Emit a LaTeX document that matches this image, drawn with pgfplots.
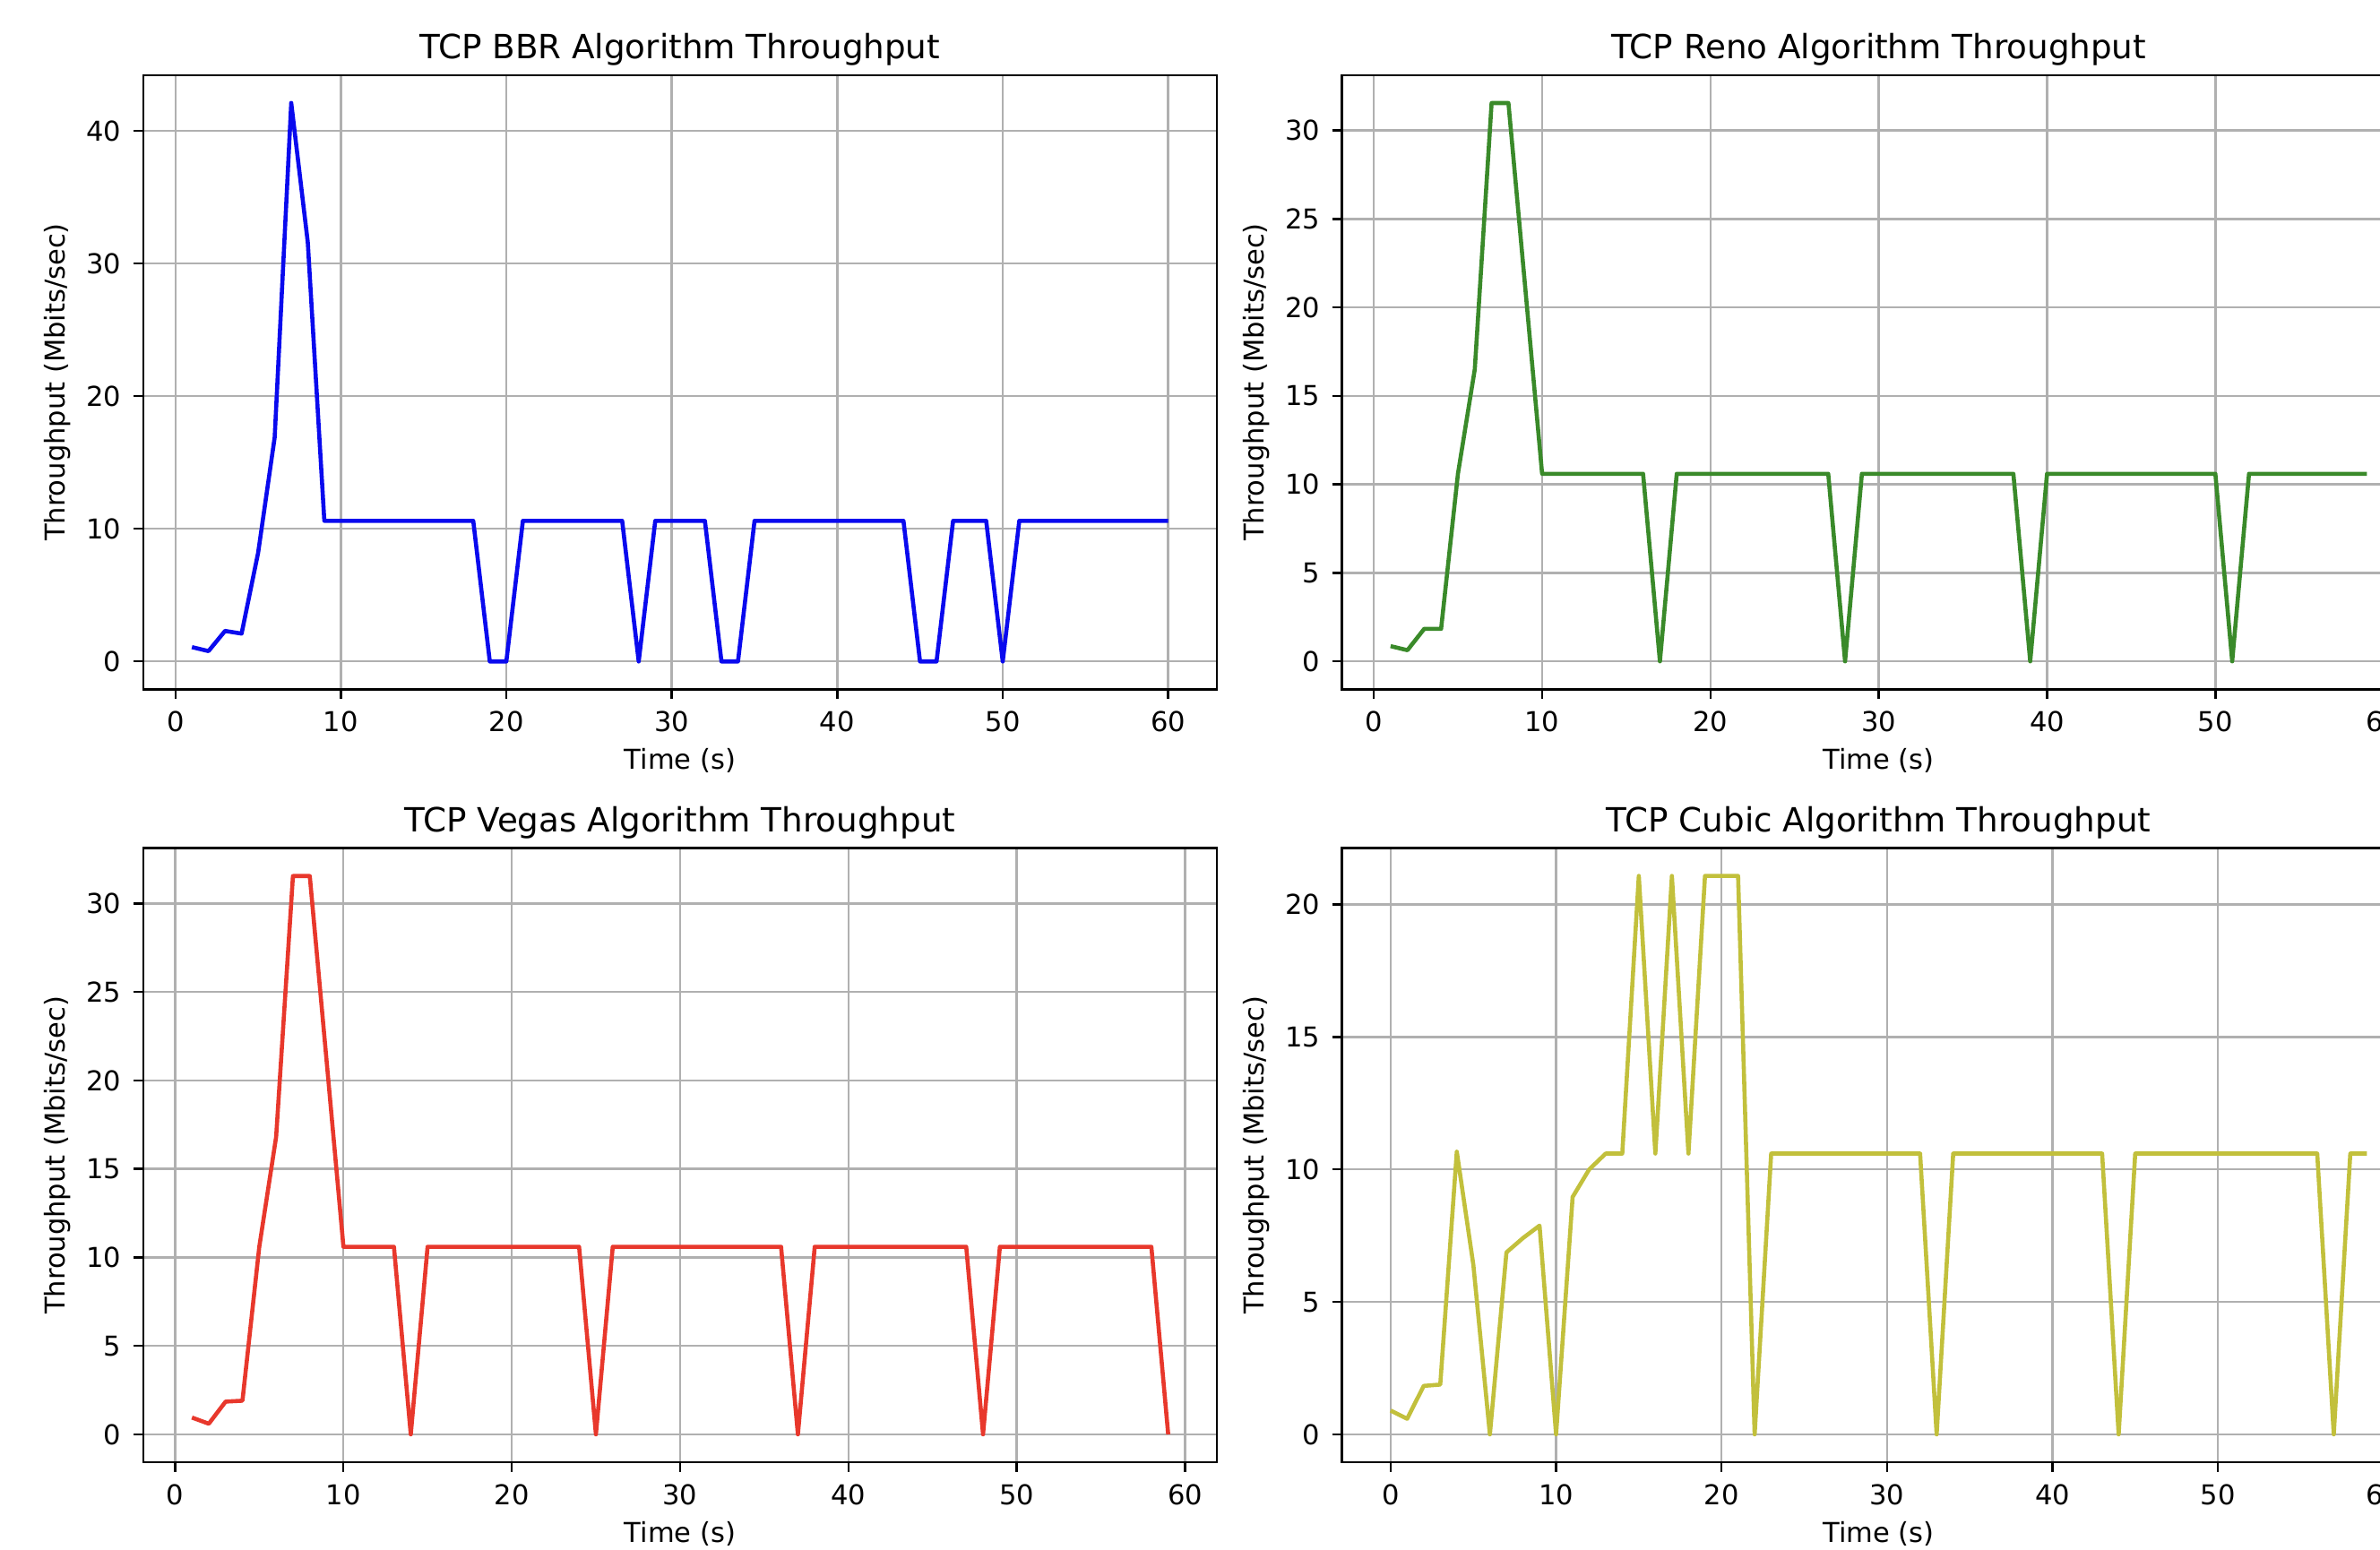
\documentclass[border=0pt]{standalone}
\usepackage{fontspec}
\setmainfont{DejaVu Sans}
\usepackage{pgfplots}
\pgfplotsset{compat=1.18}
\usepackage{pgfplotstable}

\definecolor{bbrc}{HTML}{0A0AEE}
\definecolor{renoc}{HTML}{3A8A2A}
\definecolor{vegasc}{HTML}{E8382C}
\definecolor{cubicc}{HTML}{C2C03C}

\pgfplotstableread{
x y
1 1.08
2 0.78
3 2.3
4 2.1
5 8.2
6 16.9
7 42.1
8 31.6
9 10.6
10 10.6
11 10.6
12 10.6
13 10.6
14 10.6
15 10.6
16 10.6
17 10.6
18 10.6
19 0
20 0
21 10.6
22 10.6
23 10.6
24 10.6
25 10.6
26 10.6
27 10.6
28 0
29 10.6
30 10.6
31 10.6
32 10.6
33 0
34 0
35 10.6
36 10.6
37 10.6
38 10.6
39 10.6
40 10.6
41 10.6
42 10.6
43 10.6
44 10.6
45 0
46 0
47 10.6
48 10.6
49 10.6
50 0
51 10.6
52 10.6
53 10.6
54 10.6
55 10.6
56 10.6
57 10.6
58 10.6
59 10.6
60 10.6
}\bbrdata

\pgfplotstableread{
x y
1 0.86
2 0.63
3 1.84
4 1.84
5 10.6
6 16.5
7 31.55
8 31.55
9 21.1
10 10.6
11 10.6
12 10.6
13 10.6
14 10.6
15 10.6
16 10.6
17 0
18 10.6
19 10.6
20 10.6
21 10.6
22 10.6
23 10.6
24 10.6
25 10.6
26 10.6
27 10.6
28 0
29 10.6
30 10.6
31 10.6
32 10.6
33 10.6
34 10.6
35 10.6
36 10.6
37 10.6
38 10.6
39 0
40 10.6
41 10.6
42 10.6
43 10.6
44 10.6
45 10.6
46 10.6
47 10.6
48 10.6
49 10.6
50 10.6
51 0
52 10.6
53 10.6
54 10.6
55 10.6
56 10.6
57 10.6
58 10.6
59 10.6
}\renodata

\pgfplotstableread{
x y
1 0.95
2 0.6
3 1.85
4 1.9
5 10.6
6 16.8
7 31.55
8 31.55
9 21.1
10 10.6
11 10.6
12 10.6
13 10.6
14 0
15 10.6
16 10.6
17 10.6
18 10.6
19 10.6
20 10.6
21 10.6
22 10.6
23 10.6
24 10.6
25 0
26 10.6
27 10.6
28 10.6
29 10.6
30 10.6
31 10.6
32 10.6
33 10.6
34 10.6
35 10.6
36 10.6
37 0
38 10.6
39 10.6
40 10.6
41 10.6
42 10.6
43 10.6
44 10.6
45 10.6
46 10.6
47 10.6
48 0
49 10.6
50 10.6
51 10.6
52 10.6
53 10.6
54 10.6
55 10.6
56 10.6
57 10.6
58 10.6
59 0
}\vegasdata

\pgfplotstableread{
x y
0 0.9
1 0.59
2 1.83
3 1.88
4 10.67
5 6.4
6 0
7 6.87
8 7.41
9 7.88
10 0
11 8.96
12 10.0
13 10.6
14 10.6
15 21.08
16 10.6
17 21.08
18 10.6
19 21.08
20 21.08
21 21.08
22 0
23 10.6
24 10.6
25 10.6
26 10.6
27 10.6
28 10.6
29 10.6
30 10.6
31 10.6
32 10.6
33 0
34 10.6
35 10.6
36 10.6
37 10.6
38 10.6
39 10.6
40 10.6
41 10.6
42 10.6
43 10.6
44 0
45 10.6
46 10.6
47 10.6
48 10.6
49 10.6
50 10.6
51 10.6
52 10.6
53 10.6
54 10.6
55 10.6
56 10.6
57 0
58 10.6
59 10.6
}\cubicdata

\pgfplotsset{
  tcp/.style={
    scale only axis,
    width=137.96mm, height=78.92mm,
    anchor=north west,
    axis line style={black, line width=0.8pt},
    grid=major,
    grid style={color=black!31, line width=0.8pt},
    tick align=outside,
    tick pos=left,
    major tick length=3.5pt,
    tick style={black, line width=0.8pt},
    xtick={0,10,20,30,40,50,60},
    tick label style={font=\fontsize{10}{12}\selectfont},
    /pgf/number format/assume math mode=true,
    xticklabel style={inner sep=0pt, anchor=north, yshift=-4.3pt},
    yticklabel style={inner sep=0pt, anchor=east, xshift=-4.3pt},
    every axis title shift=0pt,
    title style={font=\fontsize{12.2}{14}\selectfont, at={(axis description cs:0.5,1.0420)}, anchor=center, yshift=0pt},
    xlabel style={font=\fontsize{10}{12}\selectfont, at={(axis description cs:0.5,-0.1157)}, anchor=center},
    ylabel style={font=\fontsize{10}{12}\selectfont, at={(axis description cs:-0.0796,0.5)}, anchor=center},
    xlabel={Time (s)},
    ylabel={Throughput (Mbits/sec)},
    every axis plot/.append style={line width=1.5pt, mark=none, line join=round},
  }
}

\begin{document}
\begin{tikzpicture}
\path[use as bounding box] (0,0) rectangle (305.76mm,-199.095mm);
\clip (0,0) rectangle (305.76mm,-199.095mm);

\begin{axis}[tcp, at={(18.39mm,-9.65mm)},
  title={TCP BBR Algorithm Throughput},
  xmin=-1.95, xmax=62.95, ymin=-2.1, ymax=44.2,
  ytick={0,10,20,30,40}]
\addplot[color=bbrc] table[x=x,y=y] {\bbrdata};
\end{axis}

\begin{axis}[tcp, at={(172.38mm,-9.65mm)},
  title={TCP Reno Algorithm Throughput},
  xmin=-1.9, xmax=61.9, ymin=-1.58, ymax=33.13,
  ytick={0,5,10,15,20,25,30}]
\addplot[color=renoc] table[x=x,y=y] {\renodata};
\end{axis}

\begin{axis}[tcp, at={(18.39mm,-108.97mm)},
  title={TCP Vegas Algorithm Throughput},
  xmin=-1.9, xmax=61.9, ymin=-1.58, ymax=33.13,
  ytick={0,5,10,15,20,25,30}]
\addplot[color=vegasc] table[x=x,y=y] {\vegasdata};
\end{axis}

\begin{axis}[tcp, at={(172.38mm,-108.97mm)},
  title={TCP Cubic Algorithm Throughput},
  xmin=-2.95, xmax=61.95, ymin=-1.054, ymax=22.13,
  ytick={0,5,10,15,20}]
\addplot[color=cubicc] table[x=x,y=y] {\cubicdata};
\end{axis}
\end{tikzpicture}
\end{document}
